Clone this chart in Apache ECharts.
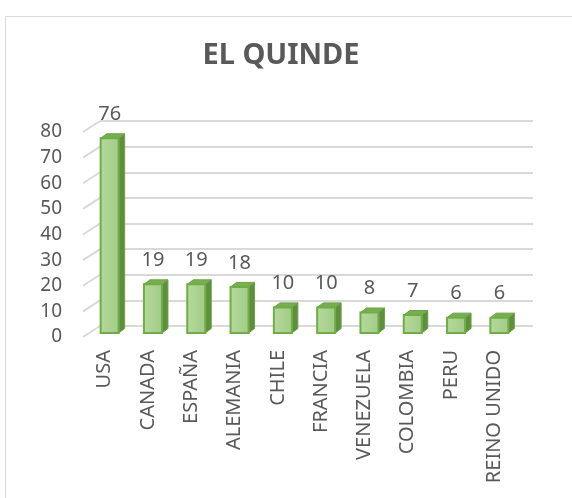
<!DOCTYPE html>
<html>
<head>
<meta charset="utf-8">
<script src="https://cdn.jsdelivr.net/npm/echarts@6/dist/echarts.min.js"></script>
<style>
  html, body { margin: 0; padding: 0; background: #fff; }
  #chart { width: 572px; height: 498px; }
</style>
</head>
<body>
<div id="chart"></div>
<script>
var categories = ['USA', 'CANADA', 'ESPAÑA', 'ALEMANIA', 'CHILE', 'FRANCIA', 'VENEZUELA', 'COLOMBIA', 'PERU', 'REINO UNIDO'];
var values = [76, 19, 19, 18, 10, 10, 8, 7, 6, 6];
var tickValues = [0, 10, 20, 30, 40, 50, 60, 70, 80];

var chart = echarts.init(document.getElementById('chart'));
var gray = '#595959';

// back wall offset and bar position inside the depth
var wallDx = 17, wallDy = -11;
var barDx = 5, barDy = -4;
var depthDx = 6, depthDy = -4.5;
var barW = 18;

function renderBar(params, api) {
  var v = api.value(1);
  var top = api.coord([api.value(0), v]);
  var bot = api.coord([api.value(0), 0]);
  var cx = top[0] + barDx;
  var x0 = cx - barW / 2, x1 = cx + barW / 2;
  var yt = top[1] + barDy, yb = bot[1] + barDy;
  return {
    type: 'group',
    children: [
      { type: 'polygon', shape: { points: [[x1, yt], [x1 + depthDx, yt + depthDy], [x1 + depthDx, yb + depthDy], [x1, yb]] },
        style: { fill: '#5f8f3e', stroke: '#6aa343', lineWidth: 1 } },
      { type: 'polygon', shape: { points: [[x0, yt], [x0 + depthDx, yt + depthDy], [x1 + depthDx, yt + depthDy], [x1, yt]] },
        style: { fill: '#78ae52', stroke: '#6aa343', lineWidth: 1 } },
      { type: 'rect', shape: { x: x0, y: yt, width: barW, height: yb - yt },
        style: {
          fill: new echarts.graphic.LinearGradient(0, 0, 1, 0, [
            { offset: 0, color: '#b5d99c' }, { offset: 1, color: '#a2cc86' }
          ]),
          stroke: '#70ad47', lineWidth: 2
        } },
      { type: 'text', x: cx, y: yt - 24,
        style: { text: String(v), fill: gray, fontSize: 20, fontFamily: 'Noto Sans', align: 'center', verticalAlign: 'middle' } }
    ]
  };
}

var frame = {
  type: 'rect', shape: { x: 5.5, y: 16.5, width: 600, height: 600 },
  style: { fill: 'none', stroke: '#d9d9d9', lineWidth: 1 }, z: -10
};

var option = {
  animation: false,
  title: {
    text: 'EL QUINDE',
    left: 276, top: 36, textAlign: 'center',
    textStyle: { color: gray, fontSize: 29, fontWeight: 'bold', fontFamily: 'Noto Sans' }
  },
  graphic: [frame],
  grid: [
    { left: 83, right: 56, top: 132, bottom: 161 },
    { left: 83 + wallDx, right: 56 - wallDx, top: 132 + wallDy, bottom: 161 - wallDy }
  ],
  xAxis: [
    { type: 'category', gridIndex: 0, data: categories,
      axisLine: { show: false }, axisTick: { show: false },
      axisLabel: { rotate: 90, margin: 13, fontSize: 20, color: gray, fontFamily: 'Noto Sans', interval: 0 } },
    { type: 'category', gridIndex: 1, data: categories, show: false }
  ],
  yAxis: [
    { type: 'value', gridIndex: 0, min: 0, max: 80, interval: 10,
      axisLine: { show: false }, axisTick: { show: false }, splitLine: { show: false },
      axisLabel: { margin: 21, fontSize: 19, color: gray, fontFamily: 'Noto Sans' } },
    { type: 'value', gridIndex: 1, min: 0, max: 80, interval: 10,
      axisLine: { show: false }, axisTick: { show: false }, axisLabel: { show: false },
      splitLine: { show: true, lineStyle: { color: '#d9d9d9', width: 2 } } }
  ],
  series: [
    { type: 'custom', name: 'EL QUINDE', xAxisIndex: 0, yAxisIndex: 0, renderItem: renderBar,
      data: values.map(function (v, i) { return [i, v]; }), z: 5 }
  ]
};
chart.setOption(option);

// left side wall: slanted line per tick, positioned from the axis scale
var sideLines = tickValues.map(function (t) {
  var p0 = chart.convertToPixel({ gridIndex: 0 }, [0, t]);
  var p1 = chart.convertToPixel({ gridIndex: 0 }, [1, t]);
  var x = p0[0] - (p1[0] - p0[0]) / 2;
  var y = p0[1];
  return {
    type: 'line', z: 3,
    shape: { x1: x, y1: y, x2: x + wallDx, y2: y + wallDy },
    style: { stroke: '#d9d9d9', lineWidth: 2 }
  };
});
chart.setOption({ graphic: [frame].concat(sideLines) });
</script>
</body>
</html>
